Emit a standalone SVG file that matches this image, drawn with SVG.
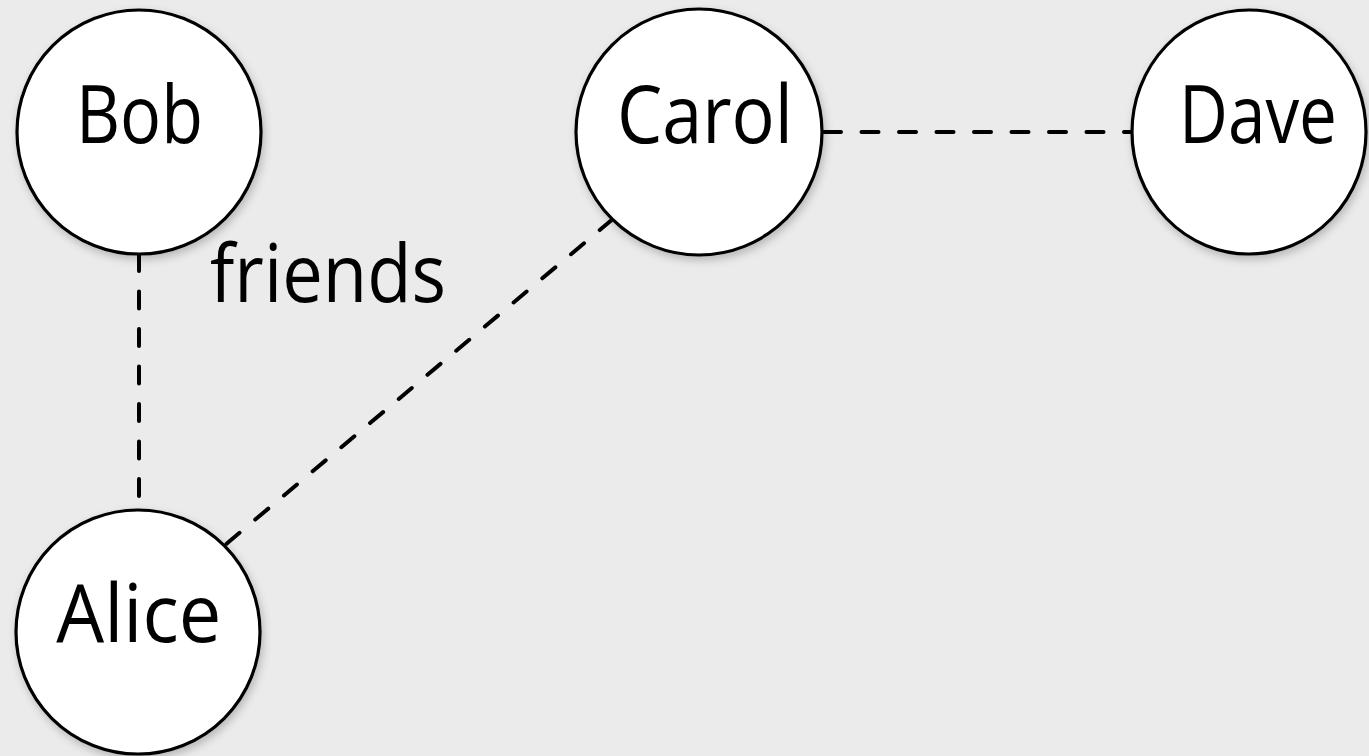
<svg xmlns="http://www.w3.org/2000/svg" width="1369" height="756" viewBox="0 0 1369 756">
  <defs>
    <filter id="shadow" x="-20%" y="-20%" width="140%" height="140%">
      <feDropShadow dx="2" dy="4" stdDeviation="4" flood-color="#000" flood-opacity="0.22"/>
    </filter>
  </defs>
  <style>
    .node { fill: #ffffff; stroke: #000000; stroke-width: 3.2; filter: url(#shadow); }
    .label { font-family: "Open Sans", "Liberation Sans", sans-serif; font-size: 80px; fill: #000000; text-anchor: middle; }
    .edge { stroke: #000000; stroke-width: 4; stroke-dasharray: 17 20.5; stroke-dashoffset: -2; stroke-linecap: round; fill: none; }
  </style>
  <rect width="1369" height="756" fill="#ebebeb"/>
  <g id="edges">
    <line class="edge" x1="139" y1="252" x2="139" y2="509"/>
    <line class="edge" x1="225" y1="545" x2="611.7" y2="220"/>
    <line class="edge" x1="822" y1="132" x2="1132" y2="132"/>
  </g>
  <g id="node-bob">
    <circle class="node" cx="139" cy="132" r="122"/>
    <text class="label" x="139.5" y="143" textLength="127" lengthAdjust="spacingAndGlyphs">Bob</text>
  </g>
  <g id="node-carol">
    <circle class="node" cx="699" cy="132" r="123"/>
    <text class="label" x="705" y="143" textLength="176" lengthAdjust="spacingAndGlyphs">Carol</text>
  </g>
  <g id="node-dave">
    <ellipse class="node" cx="1249" cy="132" rx="117" ry="122"/>
    <text class="label" x="1258" y="143" textLength="158" lengthAdjust="spacingAndGlyphs">Dave</text>
  </g>
  <g id="node-alice">
    <circle class="node" cx="138" cy="632" r="122"/>
    <text class="label" x="138.8" y="642" textLength="165" lengthAdjust="spacingAndGlyphs">Alice</text>
  </g>
  <g id="edge-label">
    <text class="label" x="328" y="302" textLength="236" lengthAdjust="spacingAndGlyphs">friends</text>
  </g>
</svg>
